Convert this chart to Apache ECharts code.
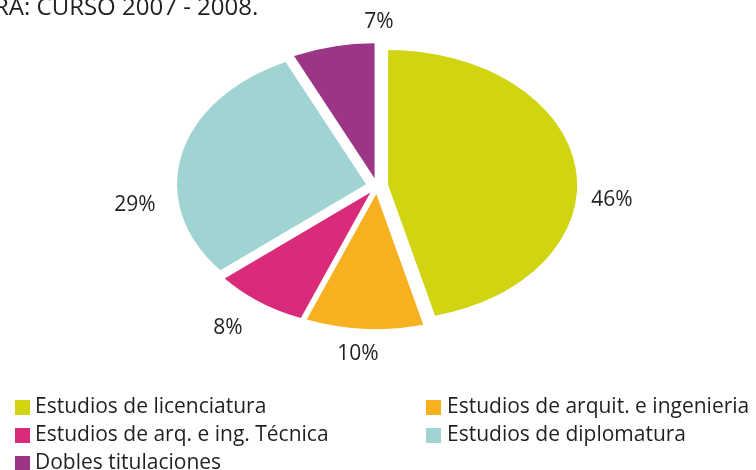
<!DOCTYPE html>
<html>
<head>
<meta charset="utf-8">
<script src="https://cdn.jsdelivr.net/npm/echarts@6/dist/echarts.min.js"></script>
<style>
  html, body { margin: 0; padding: 0; background: #fff; overflow: hidden; }
  #wrap { position: relative; width: 756px; height: 470px; overflow: hidden; }
  #pie, #over { position: absolute; left: 0; top: 0; width: 756px; height: 470px; }
  /* el grafico original es una elipse: se estira el pastel en horizontal */
  #pie { transform: scaleX(1.4); transform-origin: 377px 186px; }
</style>
</head>
<body>
<div id="wrap">
  <div id="pie"></div>
  <div id="over"></div>
</div>
<script>
var categories = [
  'Estudios de licenciatura',
  'Estudios de arquit. e ingenieria',
  'Estudios de arq. e ing. Técnica',
  'Estudios de diplomatura',
  'Dobles titulaciones'
]
var values = [46, 10, 8, 29, 7]
var colors = ['#d0d411', '#f6b020', '#d92b79', '#9fd4d2', '#9b3687']

// posiciones de las etiquetas en el original (colocadas a mano)
var labelSpots = [[612, 200], [358, 354], [228, 328], [135, 205], [379, 22]]

var font = 'Open Sans'

var pieData = categories.map(function (c, i) {
  return { name: c, value: values[i], selected: true }
})

var pieChart = echarts.init(document.getElementById('pie'), null, { renderer: 'svg' })
pieChart.setOption({
  animation: false,
  color: colors,
  series: [{
    type: 'pie',
    center: [377, 186],
    radius: 135,
    startAngle: 90,
    clockwise: true,
    selectedMode: 'multiple',
    selectedOffset: 8,
    silent: true,
    label: { show: false },
    labelLine: { show: false },
    emphasis: { disabled: true },
    data: pieData
  }]
})

var legendText = { fontFamily: font, fontSize: 21, lineHeight: 21, color: '#231f20' }

var overChart = echarts.init(document.getElementById('over'))
overChart.setOption({
  animation: false,
  color: colors,
  title: {
    text: 'RA: CURSO 2007 - 2008.',
    left: -11,
    top: -9,
    textStyle: { fontFamily: font, fontSize: 24, fontWeight: 'normal', color: '#231f20' }
  },
  legend: [{
    orient: 'vertical',
    left: 10,
    top: 392,
    height: 100,
    itemWidth: 15,
    itemHeight: 15,
    itemGap: 7,
    icon: 'rect',
    selectedMode: false,
    textStyle: legendText,
    data: [0, 2, 4].map(function (i) {
      return { name: categories[i], itemStyle: { color: colors[i], opacity: 1 } }
    })
  }, {
    orient: 'vertical',
    left: 421,
    top: 392,
    height: 100,
    itemWidth: 15,
    itemHeight: 15,
    itemGap: 7,
    icon: 'rect',
    selectedMode: false,
    textStyle: Object.assign({ padding: [0, 0, 0, 1] }, legendText),
    data: [1, 3].map(function (i) {
      return { name: categories[i], itemStyle: { color: colors[i], opacity: 1 } }
    })
  }],
  series: [{
    type: 'pie',
    center: [377, 186],
    radius: 135,
    startAngle: 90,
    silent: true,
    itemStyle: { color: 'rgba(0,0,0,0)' },
    labelLine: { show: false },
    label: {
      show: true,
      formatter: '{d}%',
      fontFamily: font,
      fontSize: 21,
      fontWeight: 'normal',
      color: '#231f20',
      textBorderWidth: 0
    },
    labelLayout: function (p) {
      var s = labelSpots[p.dataIndex]
      return { x: s[0], y: s[1], align: 'center', verticalAlign: 'middle' }
    },
    emphasis: { disabled: true },
    data: categories.map(function (c, i) {
      return { name: c, value: values[i] }
    })
  }]
})
</script>
</body>
</html>
